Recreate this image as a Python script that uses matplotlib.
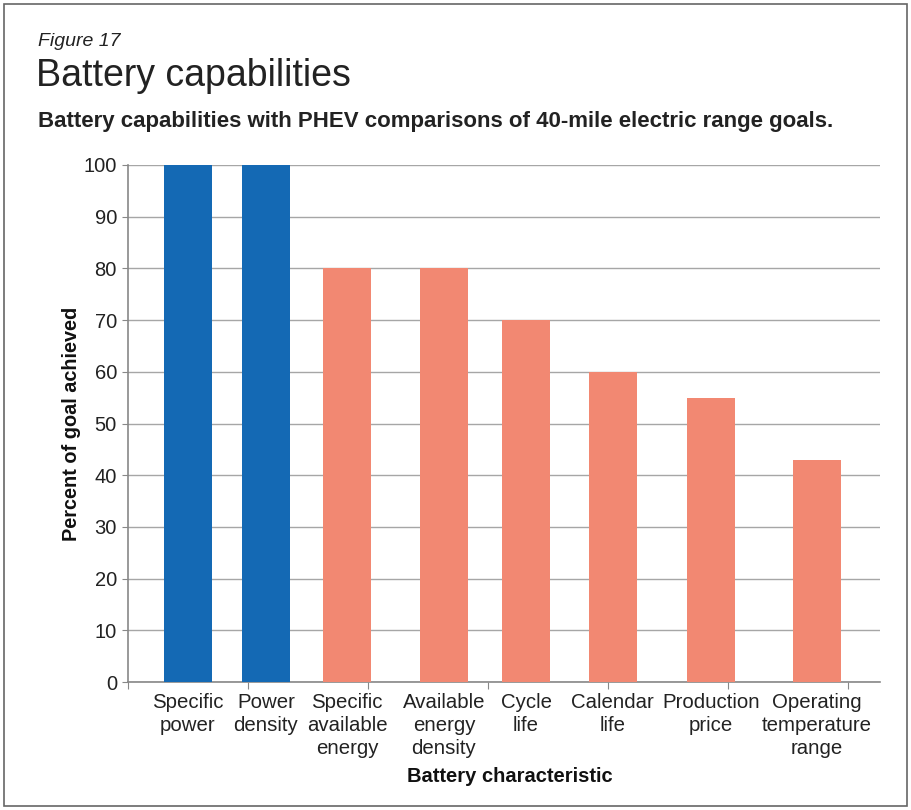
import matplotlib.pyplot as plt
from matplotlib.patches import Rectangle

plt.rcParams['font.family'] = ['Liberation Sans', 'DejaVu Sans']

# category labels, bar positions (axis units) and percent of goal achieved
labels = ["Specific\npower", "Power\ndensity", "Specific\navailable\nenergy",
          "Available\nenergy\ndensity", "Cycle\nlife", "Calendar\nlife",
          "Production\nprice", "Operating\ntemperature\nrange"]
positions = [0.50, 1.15, 1.825, 2.633, 3.317, 4.04, 4.858, 5.742]
values = [100, 100, 80, 80, 70, 60, 55, 43]
colors = ["#1469B4", "#1469B4"] + ["#F28872"] * 6

fig = plt.figure(figsize=(9.12, 8.10), dpi=100)
ax = fig.add_axes([128 / 912, 1 - 682 / 810, 752 / 912, 517 / 810])

ax.bar(positions, values, width=0.40, color=colors, zorder=3)

ax.set_ylim(0, 100)
ax.set_xlim(0, 752 / 120)
ax.set_yticks(range(0, 101, 10))
ax.set_xticks(range(0, 7))
ax.set_xticklabels([])
ax.tick_params(axis="y", labelsize=14.5, length=4, color="#888888", pad=4,
               labelcolor="#222222")
ax.tick_params(axis="x", length=5, color="#888888")
ax.grid(axis="y", color="#A6A6A6", linewidth=1, zorder=0)
for side in ["top", "right"]:
    ax.spines[side].set_visible(False)
for side in ["left", "bottom"]:
    ax.spines[side].set_color("#888888")
    ax.spines[side].set_linewidth(1.2)

for x, lab in zip(positions, labels):
    ax.text(x, -2.2, lab, ha="center", va="top", fontsize=14.7,
            color="#222222", linespacing=1.25)

ax.set_ylabel("Percent of goal achieved", fontsize=14.3, fontweight="bold", labelpad=2,
              color="#111111")
fig.text(510 / 912, 1 - 776 / 810, "Battery characteristic", ha="center",
         va="center", fontsize=14.5, fontweight="bold", color="#111111")

fig.text(38 / 912, 1 - 42 / 810, "Figure 17", fontsize=14, style="italic",
         va="center", color="#222222")
fig.text(36 / 912, 1 - 76 / 810, "Battery capabilities", fontsize=27,
         va="center", color="#222222")
fig.text(38 / 912, 1 - 122 / 810,
         "Battery capabilities with PHEV comparisons of 40-mile electric range goals.",
         fontsize=16, fontweight="bold", va="center", color="#222222")

# thin frame round the whole figure
fig.patches.append(Rectangle((4 / 912, 4 / 810), 903 / 912, 802 / 810,
                             transform=fig.transFigure, fill=False,
                             edgecolor="#666666", linewidth=1.2))

fig.savefig("out.png", dpi=100)
